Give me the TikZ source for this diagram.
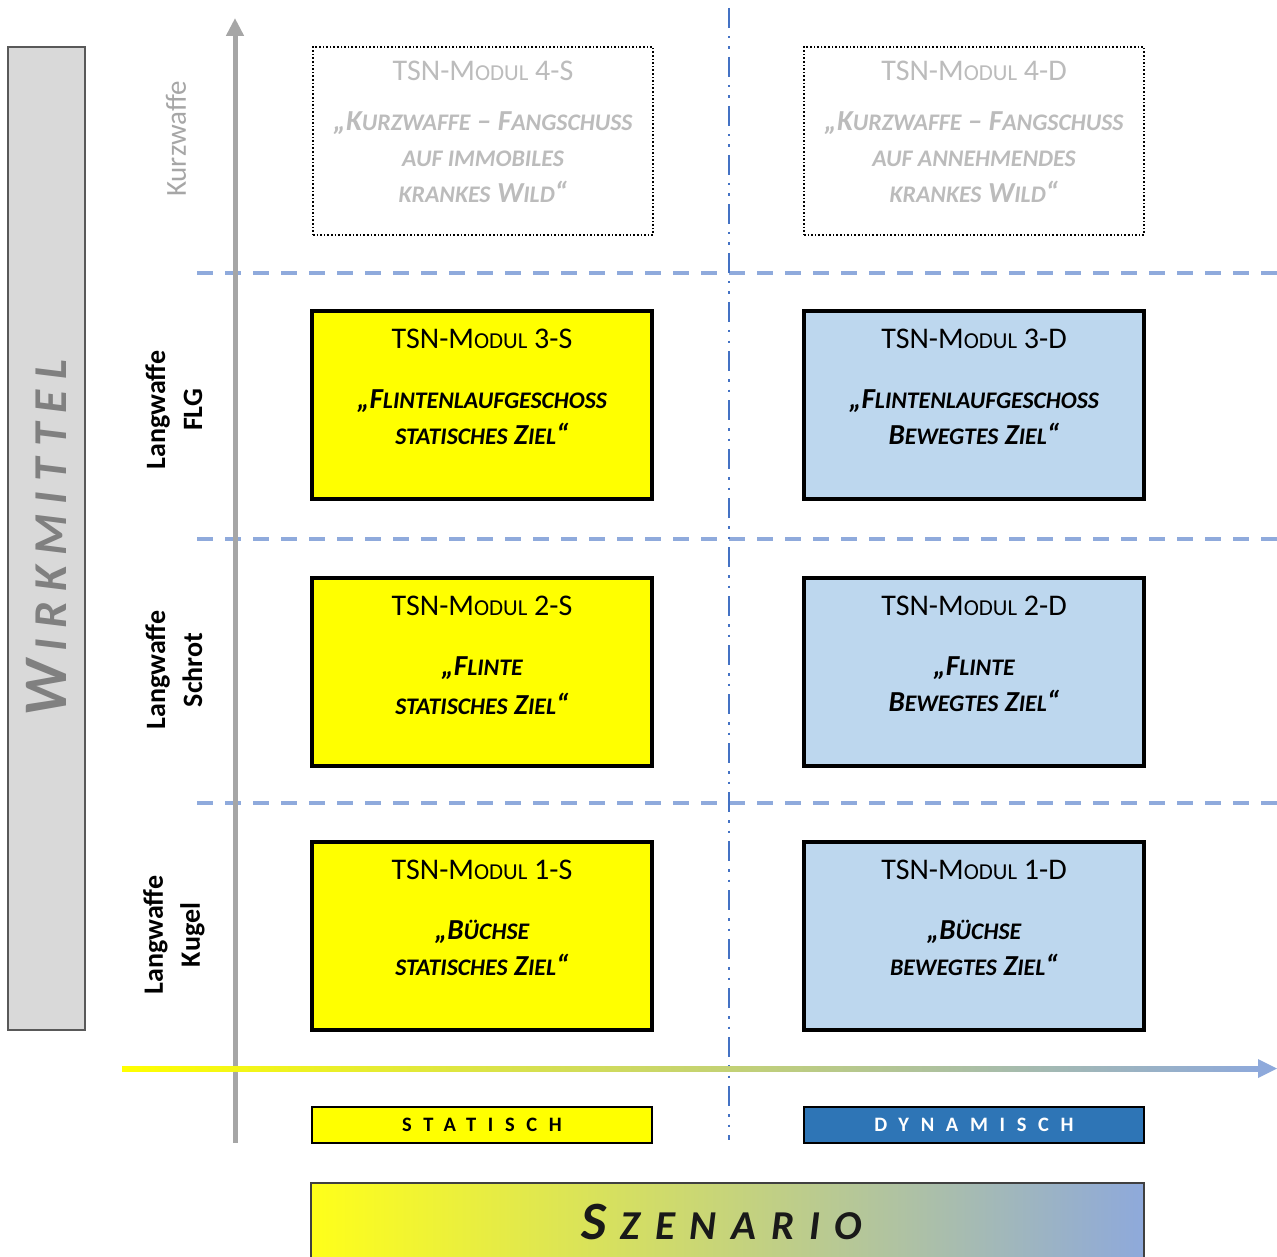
\documentclass[tikz,border=0pt]{standalone}
\usepackage{fontspec}
\setmainfont{Carlito}
\usetikzlibrary{positioning,calc,arrows.meta}
\definecolor{gelb}{HTML}{FFFF00}
\definecolor{hellblau}{HTML}{BDD7EE}
\definecolor{dunkelblau}{HTML}{2E75B6}
\definecolor{achsblau}{HTML}{8EA9DB}
\definecolor{kastengrau}{HTML}{D9D9D9}
\definecolor{achsgrau}{HTML}{A6A6A6}
\definecolor{rasterblau}{HTML}{8FAADC}
\definecolor{strichblau}{HTML}{4472C4}
\definecolor{blassgrau}{HTML}{BCBCBC}
\definecolor{titelgrau}{HTML}{808080}
\newdimen\kldim
\def\klfaktor{0.76}
\makeatletter
\newcommand\kl[1]{{\kldim=\f@size pt\fontsize{\klfaktor\kldim}{\f@baselineskip}\selectfont #1}}
\makeatother
\newcommand\modtitel[1]{{\def\klfaktor{0.76}\fontsize{30}{36}\selectfont #1}}
\tikzset{
  modul/.style={draw=black, line width=4pt, minimum width=340pt, minimum height=188pt, inner sep=0pt},
  leer/.style={draw=black, line width=1.6pt, dotted, fill=white, minimum width=340pt, minimum height=188pt, inner sep=0pt},
  modtext/.style={anchor=north, align=center, inner sep=0pt, font=\def\klfaktor{0.82}\fontsize{29}{36}\selectfont},
  zeile/.style={rotate=90, align=center, inner sep=0pt, font=\bfseries\fontsize{28}{37}\selectfont},
  achse/.style={achsgrau, line width=5pt},
  raster/.style={rasterblau, line width=4pt, dash pattern=on 16pt off 12pt},
  trenner/.style={strichblau, line width=2.2pt, dash pattern=on 20pt off 8pt on 2.5pt off 8pt on 2.5pt off 8pt},
  szbox/.style={draw=black, line width=1.2pt, minimum width=340pt, minimum height=36pt, inner sep=0pt,
    font=\bfseries\fontsize{20.5}{21}\selectfont\addfontfeature{LetterSpace=57}}
}
\begin{document}
\begin{tikzpicture}[x=1pt, y=-1pt]
\useasboundingbox (0,0) rectangle (1277,1257);

% Wirkmittel
\node[draw=black!65, line width=1.2pt, fill=kastengrau, minimum width=77pt, minimum height=983pt, inner sep=0pt] (wirk) at (46.5,538.5) {};
\node[rotate=90, text=titelgrau, font=\bfseries\itshape\fontsize{62}{62}\selectfont\addfontfeature{LetterSpace=22}] (wirktext) at (wirk.center) {W\hspace{9pt}\kl{IRKMITTEL}};

% Raster
\foreach \y in {273,539,803}
  \draw[raster] (197,\y) -- (1277,\y);
\coordinate (trennoben) at (729,8);
\coordinate (trennunten) at (729,1140);
\draw[trenner] (trennoben) -- (trennunten);

% Achsen
\coordinate (yfuss) at (235,1143);
\coordinate (yspitze) at (235,18);
\draw[achse, -{Triangle[length=18pt, width=17pt]}] (yfuss) -- (yspitze);
\shade[left color=gelb, right color=achsblau] (122,1066) rectangle (1259,1071);
\fill[achsblau] (1258,1059) -- (1277,1068.5) -- (1258,1078) -- cycle;

% Zeilen
\node[rotate=90, inner sep=0pt, text=achsgrau, font=\fontsize{29}{36}\selectfont] (kurz) at (176,139) {Kurzwaffe};
\node[zeile] (flg) at (174,410) {Langwaffe\\FLG};
\node[zeile] (schrot) at (174,670) {Langwaffe\\Schrot};
\node[zeile] (kugel) at (174,935) {Langwaffe\\Kugel};

% Module statisch
\node[leer] (m4s) at (483,141) {};
\node[modtext, text=blassgrau] at ($(m4s.north)+(0,15)$) {\modtitel{TSN-M\kl{ODUL} 4-S}\\[14pt]
  {\bfseries\itshape „K\kl{URZWAFFE} – F\kl{ANGSCHUSS}}\\{\bfseries\itshape \kl{AUF IMMOBILES}}\\{\bfseries\itshape \kl{KRANKES} W\kl{ILD}“}};
\node[modul, fill=gelb] (m3s) at (482,405) {};
\node[modtext] at ($(m3s.north)+(0,20)$) {\modtitel{TSN-M\kl{ODUL} 3-S}\\[24pt]
  {\bfseries\itshape „F\kl{LINTENLAUFGESCHOSS}}\\{\bfseries\itshape \kl{STATISCHES} Z\kl{IEL}“}};
\node[modul, fill=gelb] (m2s) at (482,672) {};
\node[modtext] at ($(m2s.north)+(0,20)$) {\modtitel{TSN-M\kl{ODUL} 2-S}\\[24pt]
  {\bfseries\itshape „F\kl{LINTE}}\\[3pt]{\bfseries\itshape \kl{STATISCHES} Z\kl{IEL}“}};
\node[modul, fill=gelb] (m1s) at (482,936) {};
\node[modtext] at ($(m1s.north)+(0,20)$) {\modtitel{TSN-M\kl{ODUL} 1-S}\\[24pt]
  {\bfseries\itshape „B\kl{ÜCHSE}}\\{\bfseries\itshape \kl{STATISCHES} Z\kl{IEL}“}};

% Module dynamisch
\node[leer] (m4d) at (974,141) {};
\node[modtext, text=blassgrau] at ($(m4d.north)+(0,15)$) {\modtitel{TSN-M\kl{ODUL} 4-D}\\[14pt]
  {\bfseries\itshape „K\kl{URZWAFFE} – F\kl{ANGSCHUSS}}\\{\bfseries\itshape \kl{AUF ANNEHMENDES}}\\{\bfseries\itshape \kl{KRANKES} W\kl{ILD}“}};
\node[modul, fill=hellblau] (m3d) at (974,405) {};
\node[modtext] at ($(m3d.north)+(0,20)$) {\modtitel{TSN-M\kl{ODUL} 3-D}\\[24pt]
  {\bfseries\itshape „F\kl{LINTENLAUFGESCHOSS}}\\{\bfseries\itshape B\kl{EWEGTES} Z\kl{IEL}“}};
\node[modul, fill=hellblau] (m2d) at (974,672) {};
\node[modtext] at ($(m2d.north)+(0,20)$) {\modtitel{TSN-M\kl{ODUL} 2-D}\\[24pt]
  {\bfseries\itshape „F\kl{LINTE}}\\{\bfseries\itshape B\kl{EWEGTES} Z\kl{IEL}“}};
\node[modul, fill=hellblau] (m1d) at (974,936) {};
\node[modtext] at ($(m1d.north)+(0,20)$) {\modtitel{TSN-M\kl{ODUL} 1-D}\\[24pt]
  {\bfseries\itshape „B\kl{ÜCHSE}}\\{\bfseries\itshape \kl{BEWEGTES} Z\kl{IEL}“}};

% Szenario
\node[szbox, fill=gelb] (statisch) at (482,1125) {STATISCH};
\node[szbox, fill=dunkelblau, text=white] (dynamisch) at (974,1125) {DYNAMISCH};
\shadedraw[left color=gelb!90!white, right color=achsblau, draw=black!75, line width=1.2pt] (311,1183) rectangle (1144,1265);
\node[font=\bfseries\itshape\fontsize{54}{54}\selectfont\addfontfeature{LetterSpace=36}, text=black!90] (szenario) at (722,1222) {S\hspace{14pt}\kl{ZENARIO}};
\end{tikzpicture}
\end{document}
